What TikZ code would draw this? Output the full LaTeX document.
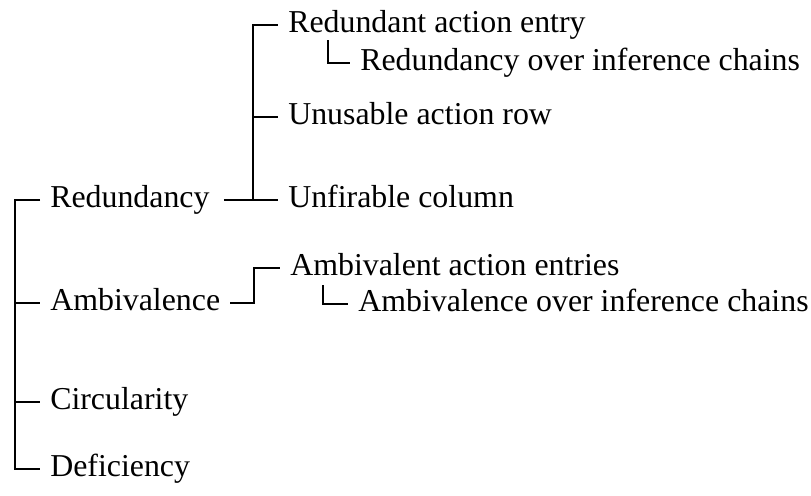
\documentclass[tikz,border=0pt]{standalone}
\usepackage{fontspec}
\setmainfont{Liberation Serif}
\usepackage{tikz}

\tikzset{
	item/.style={anchor=west, inner xsep=7.5pt, inner ysep=0pt, text height=11pt, text depth=0pt, font=\fontsize{23.9}{28}\selectfont},
	tree/.style={line width=0.9pt}
}

\begin{document}
\begin{tikzpicture}[x=0.75pt,y=-0.75pt]
			\useasboundingbox (0,0) rectangle (811,496);
			
			% first level
			\node[item] (Red) at (40,200) {Redundancy};
			\node[item] (Amb) at (40,303) {Ambivalence};
			\node[item] (Circ) at (40,402) {Circularity};
			\node[item] (Def) at (40,469) {Deficiency};
			\coordinate (trunk) at (15,200);
			
			% under Redundancy
			\node[item] (RAE) at (278,25) {Redundant action entry};
			\node[item] (ROIC) at (350,63) {Redundancy over inference chains};
			\node[item] (UAR) at (278,117) {Unusable action row};
			\node[item] (UC) at (278,200) {Unfirable column};
			\coordinate (b1) at (253,200);
			\coordinate (s1) at (328,40);
			
			% under Ambivalence
			\node[item] (AAE) at (280,268) {Ambivalent action entries};
			\node[item] (AOIC) at (348,304) {Ambivalence over inference chains};
			\coordinate (b2) at (254,303);
			\coordinate (s2) at (323,285);
			
			\draw[tree] (Red.west) -- (trunk) |- (Def.west);
			\draw[tree] (trunk) |- (Amb.west);
			\draw[tree] (trunk) |- (Circ.west);
			
			\draw[tree] ([xshift=3pt]Red.east) -- (b1) |- (RAE.west);
			\draw[tree] (b1) |- (UAR.west);
			\draw[tree] (b1) -- (UC.west);
			\draw[tree] (s1) |- (ROIC.west);
			
			\draw[tree] (Amb.east) -- (b2) |- (AAE.west);
			\draw[tree] (s2) |- (AOIC.west);
			
\end{tikzpicture}
\end{document}
